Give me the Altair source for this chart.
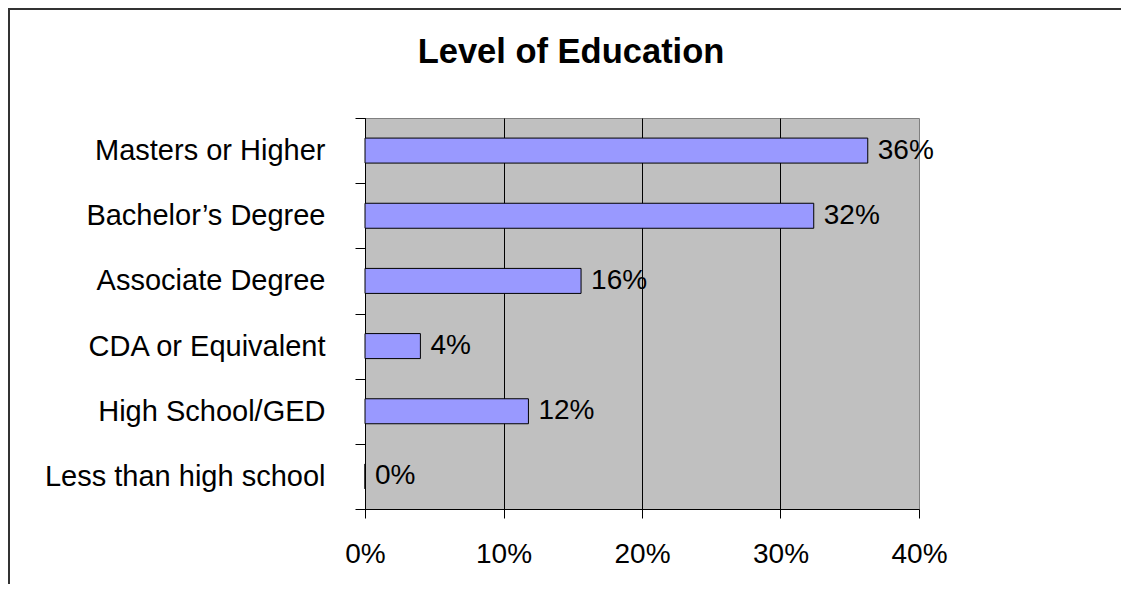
import altair as alt
import pandas as pd

categories = [
    "Masters or Higher",
    "Bachelor\u2019s Degree\u00a0",
    "Associate Degree",
    "CDA or Equivalent",
    "High School/GED",
    "Less than high school",
]
values = [0.363, 0.324, 0.156, 0.040, 0.118, 0.0]
x_ticks = [0.0, 0.1, 0.2, 0.3, 0.4]
chart_title = "Level of Education"

FONT = "Liberation Sans"

df = pd.DataFrame({"category": categories, "value": values})

x_enc = alt.X(
    "value:Q",
    scale=alt.Scale(domain=[0, 0.4], nice=False),
    axis=alt.Axis(
        values=x_ticks,
        format=".0%",
        title=None,
        grid=True,
        gridColor="black",
        gridWidth=1,
        gridOpacity={"condition": {"test": "datum.value >= 0.4", "value": 0}, "value": 1},
        domainColor="black",
        tickColor="black",
        tickSize=9,
        labelFont=FONT,
        labelFontSize=28,
        labelColor="black",
        labelBaseline="alphabetic",
        labelPadding=44,
        labelFlush=False,
    ),
)
y_enc = alt.Y(
    "category:N",
    sort=categories,
    scale=alt.Scale(paddingInner=0, paddingOuter=0),
    axis=alt.Axis(
        title=None,
        grid=False,
        tickBand="extent",
        tickSize=10,
        tickColor="black",
        domainColor="black",
        labelFont=FONT,
        labelFontSize=29,
        labelColor="black",
        labelPadding=30,
        labelLimit=500,
    ),
)

bars = alt.Chart(df).mark_bar(
    size=25, fill="#9999FF", stroke="black", strokeWidth=1
).encode(x=x_enc, y=y_enc)

labels = alt.Chart(df).mark_text(
    align="left", baseline="middle", dx=10, font=FONT, fontSize=28, color="black"
).encode(
    x="value:Q",
    y=alt.Y("category:N", sort=categories),
    text=alt.Text("value:Q", format=".0%"),
)

one = pd.DataFrame({"t": [chart_title]})

title = alt.Chart(one).mark_text(
    align="center", baseline="alphabetic", font=FONT, fontSize=34.5,
    fontWeight="bold", color="black"
).encode(text="t:N", x=alt.value(206), y=alt.value(-55))

frame_top = alt.Chart(one).mark_rule(color="#333333", strokeWidth=2).encode(
    x=alt.value(-357), x2=alt.value(756), y=alt.value(-109)
)
frame_left = alt.Chart(one).mark_rule(color="#333333", strokeWidth=2).encode(
    x=alt.value(-356), y=alt.value(-110), y2=alt.value(470)
)

chart = (
    alt.layer(frame_top, frame_left, bars, labels, title)
    .properties(
        width=554,
        height=391,
        padding={"left": 357, "top": 110, "right": 202, "bottom": 75},
        autosize=alt.AutoSizeParams(type="none"),
    )
    .configure_view(fill="#C0C0C0", stroke="#808080", strokeWidth=1)
)

chart.save("out.html", embed_options={"renderer": "svg", "actions": False})
